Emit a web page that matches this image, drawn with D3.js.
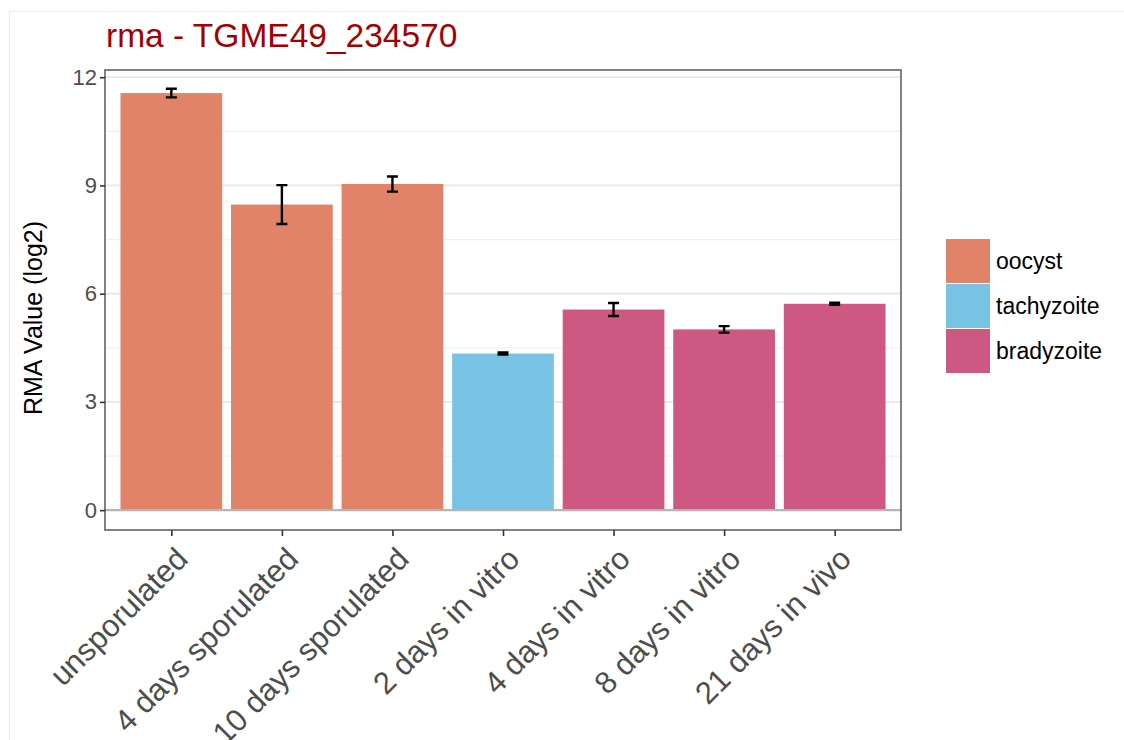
<!DOCTYPE html>
<html>
<head>
<meta charset="utf-8">
<script src="https://cdn.jsdelivr.net/npm/d3@7"></script>
<style>
  body { margin: 0; background: #fff; }
  svg { display: block; font-family: "Liberation Sans", Arial, Helvetica, sans-serif; }
</style>
</head>
<body>
<svg id="chart" width="1124" height="740"></svg>
<script>
const categories = ["unsporulated", "4 days sporulated", "10 days sporulated", "2 days in vitro", "4 days in vitro", "8 days in vitro", "21 days in vivo"];
const stages = ["oocyst", "oocyst", "oocyst", "tachyzoite", "bradyzoite", "bradyzoite", "bradyzoite"];
const values = [11.56, 8.47, 9.04, 4.34, 5.56, 5.01, 5.72];
const errors = [0.12, 0.54, 0.21, 0.03, 0.18, 0.09, 0.03];
const legendLabels = ["oocyst", "tachyzoite", "bradyzoite"];
const legendColors = ["#E18368", "#78C3E4", "#CD5881"];
const majorTicks = [0, 3, 6, 9, 12];
const minorTicks = [1.5, 4.5, 7.5, 10.5];
const title = "rma - TGME49_234570";
const yTitle = "RMA Value (log2)";

const svg = d3.select("#chart");
const panel = { left: 105, right: 901, top: 70, bottom: 530 };

// card border
svg.append("path")
  .attr("d", `M9.5,740 V11.5 H1124`)
  .attr("fill", "none").attr("stroke", "#ebebeb").attr("stroke-width", 1.2);

const x = d3.scalePoint().domain(categories).range([panel.left, panel.right]).padding(0.6);
const y = d3.scaleLinear().domain([-0.55, 12.2]).range([panel.bottom, panel.top]);
const color = d3.scaleOrdinal().domain(legendLabels).range(legendColors);
const bw = x.step() * 0.92;

// grid
const g = svg.append("g");
g.selectAll("line.minor").data(minorTicks).join("line")
  .attr("x1", panel.left).attr("x2", panel.right)
  .attr("y1", d => y(d)).attr("y2", d => y(d))
  .attr("stroke", "#f0f0f0").attr("stroke-width", 1.2);
g.selectAll("line.major").data(majorTicks).join("line")
  .attr("x1", panel.left).attr("x2", panel.right)
  .attr("y1", d => y(d)).attr("y2", d => y(d))
  .attr("stroke", "#e6e6e6").attr("stroke-width", 1.8);

// bars
svg.append("g").selectAll("rect").data(categories).join("rect")
  .attr("x", d => x(d) - bw / 2)
  .attr("width", bw)
  .attr("y", (d, i) => y(values[i]))
  .attr("height", (d, i) => y(0) - y(values[i]))
  .attr("fill", (d, i) => color(stages[i]));

// zero line
svg.append("line")
  .attr("x1", panel.left).attr("x2", panel.right)
  .attr("y1", y(0)).attr("y2", y(0))
  .attr("stroke", "#b5b5b5").attr("stroke-width", 2.2);

// error bars
const eb = svg.append("g").attr("stroke", "#000").attr("stroke-width", 2.4).attr("fill", "none");
const cap = 5.5;
categories.forEach((c, i) => {
  const cx = x(c), y1 = y(values[i] + errors[i]), y2 = y(values[i] - errors[i]);
  eb.append("path").attr("d", `M${cx - cap},${y1}H${cx + cap}M${cx},${y1}V${y2}M${cx - cap},${y2}H${cx + cap}`);
});

// panel border
svg.append("rect")
  .attr("x", panel.left).attr("y", panel.top)
  .attr("width", panel.right - panel.left).attr("height", panel.bottom - panel.top)
  .attr("fill", "none").attr("stroke", "#4d4d4d").attr("stroke-width", 1.4);

// y axis
const yAxis = svg.append("g").attr("transform", `translate(${panel.left},0)`)
  .call(d3.axisLeft(y).tickValues(majorTicks).tickSize(5).tickPadding(3).tickFormat(d3.format("d")));
yAxis.select(".domain").remove();
yAxis.selectAll(".tick line").attr("stroke", "#333").attr("stroke-width", 1.6);
yAxis.selectAll(".tick text").attr("fill", "#4d4d4d").style("font-size", "22px")
  .style("font-family", "'Liberation Sans', Arial, sans-serif");

// x axis
const xAxis = svg.append("g").attr("transform", `translate(0,${panel.bottom})`)
  .call(d3.axisBottom(x).tickSize(6).tickPadding(4));
xAxis.select(".domain").remove();
xAxis.selectAll(".tick line").attr("stroke", "#333").attr("stroke-width", 1.6);
xAxis.selectAll(".tick text")
  .attr("fill", "#4d4d4d").style("font-size", "31px")
  .style("font-family", "'Liberation Sans', Arial, sans-serif")
  .attr("text-anchor", "end")
  .attr("dy", null)
  .attr("x", 0).attr("y", 0)
  .attr("transform", "translate(2,15) rotate(-45)")
  .attr("dominant-baseline", "hanging");

// title
svg.append("text").attr("x", 106).attr("y", 47)
  .attr("fill", "#a30000").style("font-size", "33.5px").text(title);

// y title
svg.append("text")
  .attr("transform", `translate(42,318) rotate(-90)`)
  .attr("text-anchor", "middle").attr("fill", "#000").style("font-size", "25px").text(yTitle);

// legend
const lg = svg.append("g").attr("transform", "translate(946,239)");
legendLabels.forEach((l, i) => {
  lg.append("rect").attr("x", 0).attr("y", i * 45).attr("width", 44).attr("height", 44).attr("fill", color(l));
  lg.append("text").attr("x", 50).attr("y", i * 45 + 22).attr("dy", "0.35em")
    .attr("fill", "#000").style("font-size", "23px").text(l);
});
</script>
</body>
</html>
